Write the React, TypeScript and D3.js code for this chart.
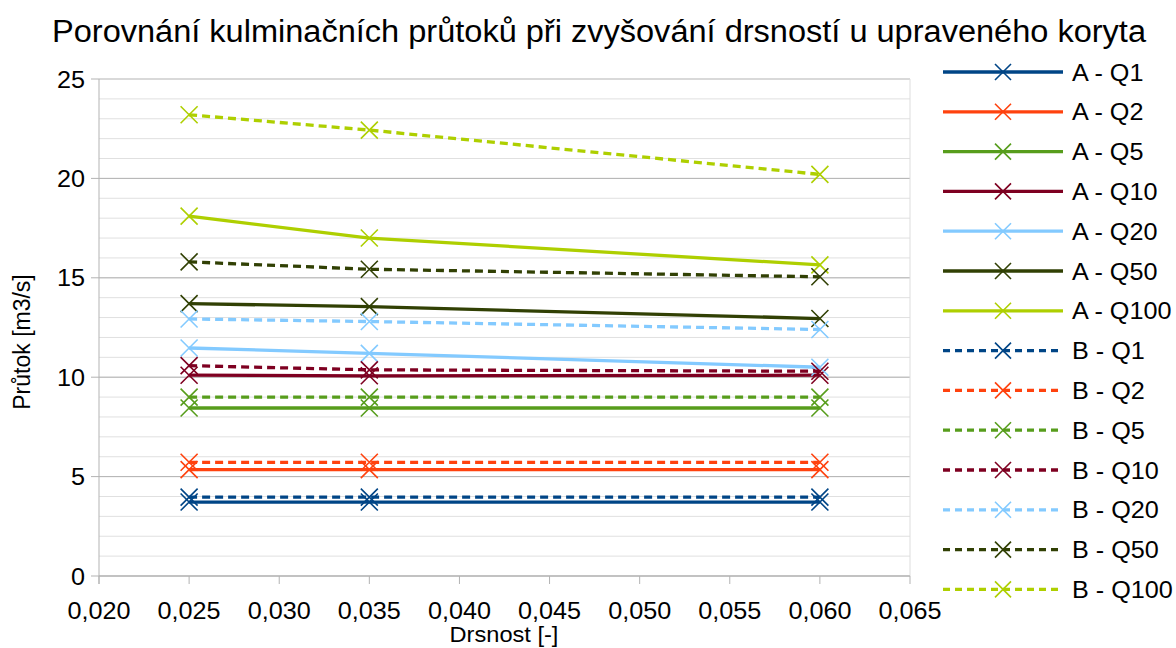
import React from "react";
import * as d3 from "d3";

const drsnost = [0.025, 0.035, 0.06];

const seriesNames = [
  "A - Q1", "A - Q2", "A - Q5", "A - Q10", "A - Q20", "A - Q50", "A - Q100",
  "B - Q1", "B - Q2", "B - Q5", "B - Q10", "B - Q20", "B - Q50", "B - Q100",
];

const aQ1 = [3.72, 3.72, 3.72];
const aQ2 = [5.35, 5.35, 5.35];
const aQ5 = [8.45, 8.45, 8.45];
const aQ10 = [10.1, 10.07, 10.1];
const aQ20 = [11.47, 11.2, 10.5];
const aQ50 = [13.7, 13.55, 12.95];
const aQ100 = [18.1, 17.0, 15.65];
const bQ1 = [3.97, 3.97, 3.97];
const bQ2 = [5.72, 5.72, 5.72];
const bQ5 = [9.0, 9.0, 9.0];
const bQ10 = [10.58, 10.37, 10.3];
const bQ20 = [12.93, 12.8, 12.4];
const bQ50 = [15.8, 15.43, 15.05];
const bQ100 = [23.2, 22.43, 20.2];

const seriesValues = [aQ1, aQ2, aQ5, aQ10, aQ20, aQ50, aQ100, bQ1, bQ2, bQ5, bQ10, bQ20, bQ50, bQ100];

const palette = ["#004586", "#ff420e", "#579d1c", "#7e0021", "#83caff", "#314004", "#aecf00"];

const xTicks = [0.02, 0.025, 0.03, 0.035, 0.04, 0.045, 0.05, 0.055, 0.06, 0.065];
const yTicks = [0, 5, 10, 15, 20, 25];

const W = 1176;
const H = 648;
const margin = { left: 99, right: 266, top: 79, bottom: 72 };
const font = "'Liberation Sans', Arial, sans-serif";
const SX = 1.05; // slight horizontal stretch of the labels

function Cross({ x, y, r, color }: { x: number; y: number; r: number; color: string }) {
  return (
    <path
      d={`M${x - r},${y - r}L${x + r},${y + r}M${x - r},${y + r}L${x + r},${y - r}`}
      stroke={color}
      strokeWidth={1.6}
      fill="none"
    />
  );
}

function Label({ x, y, size, anchor = "start", children }: { x: number; y: number; size: number; anchor?: string; children: React.ReactNode }) {
  return (
    <text transform={`translate(${x},${y}) scale(${SX},1)`} textAnchor={anchor} fontSize={size} fill="#000">
      {children}
    </text>
  );
}

export default function App() {
  const x = d3.scaleLinear().domain([0.02, 0.065]).range([margin.left, W - margin.right]);
  const y = d3.scaleLinear().domain([0, 25]).range([H - margin.bottom, margin.top]);
  const minor = d3.range(0, 25, 1);
  const fmt = (v: number) => v.toFixed(3).replace(".", ",");

  const line = d3
    .line<[number, number]>()
    .x((d) => x(d[0]))
    .y((d) => y(d[1]));

  const legendX = 943;
  const legendY0 = 72;
  const legendStep = 39.8;

  return (
    <svg width={W} height={H} style={{ position: "absolute", left: 0, top: 0, background: "#fff" }} fontFamily={font}>
      <Label x={599} y={42} size={31} anchor="middle">
        Porovnání kulminačních průtoků při zvyšování drsností u upraveného koryta
      </Label>

      {minor.map((t) => (
        <line key={"m" + t} x1={x.range()[0]} x2={x.range()[1]} y1={y(t)} y2={y(t)} stroke="#e0e0e0" strokeWidth={1} />
      ))}
      {yTicks.map((t) => (
        <g key={"y" + t}>
          <line x1={x.range()[0] - 8} x2={x.range()[1]} y1={y(t)} y2={y(t)} stroke="#b3b3b3" strokeWidth={1} />
          <Label x={85} y={y(t) + 8.5} size={24} anchor="end">
            {t}
          </Label>
        </g>
      ))}
      <line x1={x.range()[1]} x2={x.range()[1]} y1={y(25)} y2={y(0)} stroke="#dddddd" />
      <line x1={x.range()[0]} x2={x.range()[0]} y1={y(25)} y2={y(0) + 8} stroke="#b3b3b3" />
      {xTicks.map((t) => (
        <g key={"x" + t}>
          <line x1={x(t)} x2={x(t)} y1={y(0)} y2={y(0) + 8} stroke="#b3b3b3" />
          <Label x={x(t)} y={619} size={24} anchor="middle">
            {fmt(t)}
          </Label>
        </g>
      ))}
      <line x1={x.range()[0]} x2={x.range()[1]} y1={y(0)} y2={y(0)} stroke="#b3b3b3" />

      <Label x={504} y={642} size={22.5} anchor="middle">
        Drsnost [-]
      </Label>
      <text transform={`translate(30,342) rotate(-90)`} textAnchor="middle" fontSize={23} fill="#000">
        Průtok [m3/s]
      </text>

      {seriesValues.map((vals, i) => {
        const color = palette[i % 7];
        const dashed = i >= 7;
        const pts = drsnost.map((d, j) => [d, vals[j]] as [number, number]);
        return (
          <g key={seriesNames[i]}>
            <path
              d={line(pts) ?? ""}
              stroke={color}
              strokeWidth={3.3}
              fill="none"
              strokeDasharray={dashed ? "8,5" : undefined}
            />
            {pts.map((p, j) => (
              <Cross key={j} x={x(p[0])} y={y(p[1])} r={8.5} color={color} />
            ))}
          </g>
        );
      })}

      {seriesNames.map((name, i) => {
        const color = palette[i % 7];
        const dashed = i >= 7;
        const ly = legendY0 + i * legendStep;
        return (
          <g key={"l" + name}>
            <line
              x1={legendX}
              x2={legendX + 120}
              y1={ly}
              y2={ly}
              stroke={color}
              strokeWidth={3.3}
              strokeDasharray={dashed ? "7,5" : undefined}
            />
            <Cross x={legendX + 60} y={ly} r={8} color={color} />
            <Label x={1072} y={ly + 8.5} size={24}>
              {name}
            </Label>
          </g>
        );
      })}
    </svg>
  );
}
